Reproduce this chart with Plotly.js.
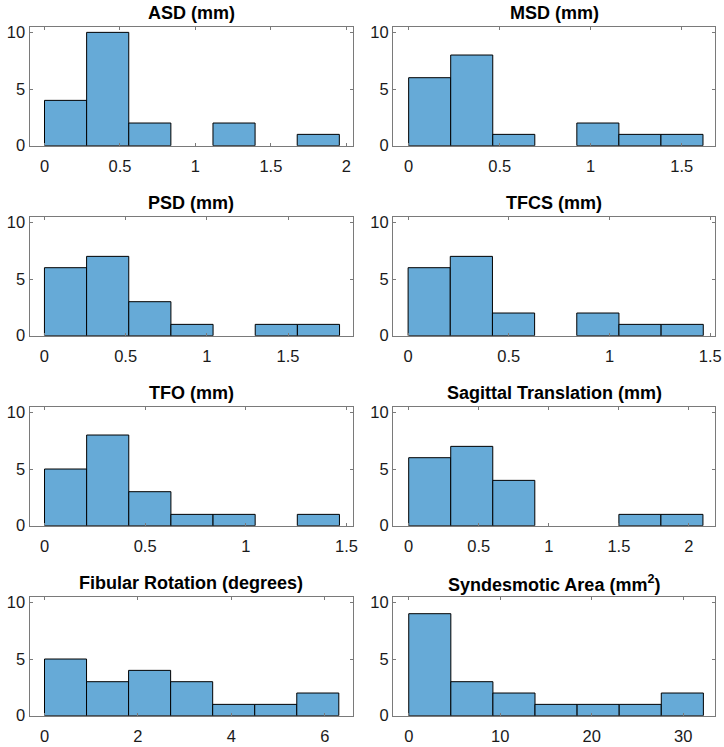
<!DOCTYPE html>
<html>
<head>
<meta charset="utf-8">
<script src="https://cdn.plot.ly/plotly-3.0.1.min.js"></script>
<style>html,body{margin:0;padding:0;background:#fff;}#chart{width:724px;height:747px;}</style>
</head>
<body>
<div id="chart"></div>
<script>
// ---- data ----
const titles = ["ASD (mm)", "MSD (mm)", "PSD (mm)", "TFCS (mm)", "TFO (mm)",
  "Sagittal Translation (mm)", "Fibular Rotation (degrees)", "Syndesmotic Area (mm<sup>2</sup>)"];
const asdCounts = [4, 10, 2, 0, 2, 0, 1];
const msdCounts = [6, 8, 1, 0, 2, 1, 1];
const psdCounts = [6, 7, 3, 1, 0, 1, 1];
const tfcsCounts = [6, 7, 2, 0, 2, 1, 1];
const tfoCounts = [5, 8, 3, 1, 1, 0, 1];
const sagittalCounts = [6, 7, 4, 0, 0, 1, 1];
const fibularCounts = [5, 3, 4, 3, 1, 1, 2];
const areaCounts = [9, 3, 2, 1, 1, 1, 2];
const binStarts = [0, 0, 0, 0, 0, 0, 0, 0];
const binWidths = [0.2791, 0.231, 0.2596, 0.2094, 0.2093, 0.3, 0.9, 4.6];
const xTickSteps = [0.5, 0.5, 0.5, 0.5, 0.5, 0.5, 2, 10];
const yTickVals = [0, 5, 10];

const allCounts = [asdCounts, msdCounts, psdCounts, tfcsCounts, tfoCounts, sagittalCounts, fibularCounts, areaCounts];

// ---- layout geometry ----
const W = 724, H = 747;
const colPx = [[29.5, 352.5], [393, 715]];
const rowPx = [[26.7, 145.7], [216.7, 335.7], [406.7, 525.7], [596.7, 715.7]];
const xRanges = [[-0.0995, 2.041], [-0.086, 1.683], [-0.092, 1.897], [-0.075, 1.524],
  [-0.0746, 1.530], [-0.112, 2.186], [-0.321, 6.593], [-1.72, 33.47]];

const barColor = 'rgb(102,170,215)';
const axisColor = '#7a7a7a';
const font = 'Liberation Sans, Arial, Helvetica, sans-serif';

const traces = [];
const layout = {
  width: W, height: H,
  margin: {l: 0, r: 0, t: 0, b: 0},
  paper_bgcolor: '#fff', plot_bgcolor: '#fff',
  showlegend: false,
  bargap: 0,
  annotations: []
};

allCounts.forEach((counts, i) => {
  const row = Math.floor(i / 2), col = i % 2;
  const n = i + 1;
  const xa = 'xaxis' + (n === 1 ? '' : n), ya = 'yaxis' + (n === 1 ? '' : n);
  const xr = 'x' + (n === 1 ? '' : n), yr = 'y' + (n === 1 ? '' : n);
  const w = binWidths[i];
  const centers = counts.map((_, k) => binStarts[i] + w * (k + 0.5));
  // empty bins are not drawn (no outline on the axis)
  const shown = counts.map(c => (c === 0 ? null : c));
  traces.push({
    type: 'bar', x: centers, y: shown, width: w,
    xaxis: xr, yaxis: yr,
    marker: {color: barColor, line: {color: '#000', width: 1}},
    hoverinfo: 'x+y'
  });
  const common = {
    showline: true, linecolor: axisColor, linewidth: 1, mirror: 'ticks',
    ticks: 'inside', ticklen: 3, tickcolor: axisColor, tickwidth: 1,
    showgrid: false, zeroline: false,
    tickfont: {family: font, size: 16.5, color: '#1a1a1a'}
  };
  layout[xa] = Object.assign({}, common, {
    domain: [colPx[col][0] / W, colPx[col][1] / W],
    range: xRanges[i], dtick: xTickSteps[i], tick0: 0,
    ticklabelstandoff: 5,
    anchor: yr
  });
  layout[ya] = Object.assign({}, common, {
    domain: [1 - rowPx[row][1] / H, 1 - rowPx[row][0] / H],
    range: [0, 10.5], tickvals: yTickVals, ticktext: yTickVals.map(String),
    anchor: xr
  });
  layout.annotations.push({
    xref: 'paper', yref: 'paper',
    x: (colPx[col][0] + colPx[col][1]) / 2 / W,
    y: 1 - (rowPx[row][0] - 13.5) / H,
    xanchor: 'center', yanchor: 'middle',
    text: '<b>' + titles[i] + '</b>', showarrow: false,
    font: {family: font, size: 18, color: '#000'}
  });
});

Plotly.newPlot('chart', traces, layout, {staticPlot: true});
</script>
</body>
</html>
